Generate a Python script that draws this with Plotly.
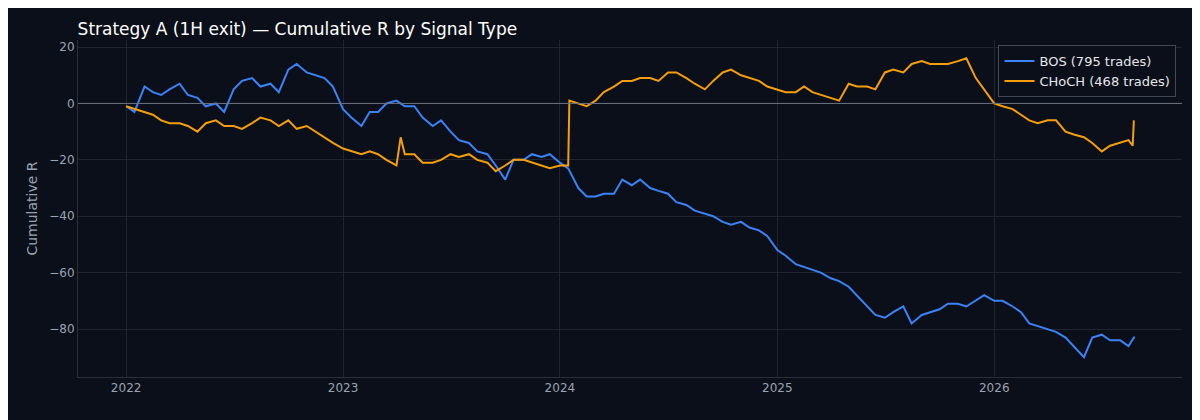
import plotly.graph_objects as go

bos_dates = ["2022-01-01","2022-01-15","2022-02-01","2022-02-15","2022-03-01","2022-03-15","2022-04-01","2022-04-15","2022-05-01","2022-05-15","2022-06-01","2022-06-15","2022-07-01","2022-07-15","2022-08-01","2022-08-15","2022-09-01","2022-09-15","2022-10-01","2022-10-15","2022-11-01","2022-11-15","2022-12-01","2022-12-15",
"2023-01-01","2023-01-15","2023-02-01","2023-02-15","2023-03-01","2023-03-15","2023-04-01","2023-04-15","2023-05-01","2023-05-15","2023-06-01","2023-06-15","2023-07-01","2023-07-15","2023-08-01","2023-08-15","2023-09-01","2023-09-15","2023-10-01","2023-10-15","2023-11-01","2023-11-15","2023-12-01","2023-12-15",
"2024-01-01","2024-01-15","2024-02-01","2024-02-15","2024-03-01","2024-03-15","2024-04-01","2024-04-15","2024-05-01","2024-05-15","2024-06-01","2024-06-15","2024-07-01","2024-07-15","2024-08-01","2024-08-15","2024-09-01","2024-09-15","2024-10-01","2024-10-15","2024-11-01","2024-11-15","2024-12-01","2024-12-15",
"2025-01-01","2025-01-15","2025-02-01","2025-02-15","2025-03-01","2025-03-15","2025-04-01","2025-04-15","2025-05-01","2025-05-15","2025-06-01","2025-06-15","2025-07-01","2025-07-15","2025-08-01","2025-08-15","2025-09-01","2025-09-15","2025-10-01","2025-10-15","2025-11-01","2025-11-15","2025-12-01","2025-12-15",
"2026-01-01","2026-01-15","2026-02-01","2026-02-15","2026-03-01","2026-03-15","2026-04-01","2026-04-15","2026-05-01","2026-05-15","2026-06-01","2026-06-15","2026-07-01","2026-07-15","2026-08-01","2026-08-15","2026-08-24","2026-08-26"]
bos_vals = [-1,-3,6,4,3,5,7,3,2,-1,0,-3,5,8,9,6,7,4,12,14,11,10,9,6,
-2,-5,-8,-3,-3,0,1,-1,-1,-5,-8,-6,-10,-13,-14,-17,-18,-22,-27,-20,-20,-18,-19,-18,
-21,-23,-30,-33,-33,-32,-32,-27,-29,-27,-30,-31,-32,-35,-36,-38,-39,-40,-42,-43,-42,-44,-45,-47,
-52,-54,-57,-58,-59,-60,-62,-63,-65,-68,-72,-75,-76,-74,-72,-78,-75,-74,-73,-71,-71,-72,-70,-68,
-70,-70,-72,-74,-78,-79,-80,-81,-83,-86,-90,-83,-82,-84,-84,-86,-83,-83]

ch_dates = ["2022-01-01","2022-01-15","2022-02-01","2022-02-15","2022-03-01","2022-03-15","2022-04-01","2022-04-15","2022-05-01","2022-05-15","2022-06-01","2022-06-15","2022-07-01","2022-07-15","2022-08-01","2022-08-15","2022-09-01","2022-09-15","2022-10-01","2022-10-15","2022-11-01","2022-11-15","2022-12-01","2022-12-15",
"2023-01-01","2023-01-15","2023-02-01","2023-02-15","2023-03-01","2023-03-15","2023-04-01","2023-04-08","2023-04-15","2023-05-01","2023-05-15","2023-06-01","2023-06-15","2023-07-01","2023-07-15","2023-08-01","2023-08-15","2023-09-01","2023-09-15","2023-10-01","2023-10-15","2023-11-01","2023-11-15","2023-12-01","2023-12-15",
"2024-01-01","2024-01-15","2024-01-17","2024-02-01","2024-02-15","2024-03-01","2024-03-15","2024-04-01","2024-04-15","2024-05-01","2024-05-15","2024-06-01","2024-06-15","2024-07-01","2024-07-15","2024-08-01","2024-08-15","2024-09-01","2024-09-15","2024-10-01","2024-10-15","2024-11-01","2024-11-15","2024-12-01","2024-12-15",
"2025-01-01","2025-01-15","2025-02-01","2025-02-15","2025-03-01","2025-03-15","2025-04-01","2025-04-15","2025-05-01","2025-05-15","2025-06-01","2025-06-15","2025-07-01","2025-07-15","2025-08-01","2025-08-15","2025-09-01","2025-09-15","2025-10-01","2025-10-15","2025-11-01","2025-11-15","2025-12-01","2025-12-15",
"2026-01-01","2026-01-15","2026-02-01","2026-02-15","2026-03-01","2026-03-15","2026-04-01","2026-04-15","2026-05-01","2026-05-15","2026-06-01","2026-06-15","2026-07-01","2026-07-15","2026-08-01","2026-08-15","2026-08-22","2026-08-24"]
ch_vals = [-1,-2,-3,-4,-6,-7,-7,-8,-10,-7,-6,-8,-8,-9,-7,-5,-6,-8,-6,-9,-8,-10,-12,-14,
-16,-17,-18,-17,-18,-20,-22,-12,-18,-18,-21,-21,-20,-18,-19,-18,-20,-21,-24,-22,-20,-20,-21,-22,-23,
-22,-22,1,0,-1,1,4,6,8,8,9,9,8,11,11,9,7,5,8,11,12,10,9,8,6,
5,4,4,6,4,3,2,1,7,6,6,5,11,12,11,14,15,14,14,14,15,16,9,5,
0,-1,-2,-4,-6,-7,-6,-6,-10,-11,-12,-14,-17,-15,-14,-13,-15,-6]

fig = go.Figure()
fig.add_trace(go.Scatter(x=bos_dates, y=bos_vals, mode="lines", name="BOS (795 trades)",
                         line=dict(color="#3b82f6", width=2)))
fig.add_trace(go.Scatter(x=ch_dates, y=ch_vals, mode="lines", name="CHoCH (468 trades)",
                         line=dict(color="#f59e0b", width=2)))
fig.add_hline(y=0, line=dict(color="#6b7280", width=1))
fig.update_layout(
    width=1200, height=420,
    paper_bgcolor="#0b0f19", plot_bgcolor="#0b0f19",
    font=dict(family="DejaVu Sans", color="#9aa3b2", size=12),
    title=dict(text="Strategy A (1H exit) — Cumulative R by Signal Type", x=0.058, y=0.965,
               font=dict(size=17, color="#ffffff")),
    margin=dict(l=70, r=26, t=32, b=51),
    legend=dict(x=0.995, y=0.985, xanchor="right", yanchor="top",
                bgcolor="#0b0f19", bordercolor="#444a55", borderwidth=1,
                font=dict(color="#e5e7eb", size=13)),
    xaxis=dict(range=["2021-10-12","2026-11-13"], showgrid=True, gridcolor="#1f2430",
               tickvals=["2022-01-01","2023-01-01","2024-01-01","2025-01-01","2026-01-01"],
               ticktext=["2022","2023","2024","2025","2026"], zeroline=False,
               showline=True, linecolor="#2a2f3a"),
    yaxis=dict(range=[-97, 22.5], showgrid=True, gridcolor="#1f2430", dtick=20,
               zeroline=False, title=dict(text="Cumulative R", font=dict(size=14), standoff=8),
               showline=True, linecolor="#2a2f3a"),
)
fig.write_html("out.html")
